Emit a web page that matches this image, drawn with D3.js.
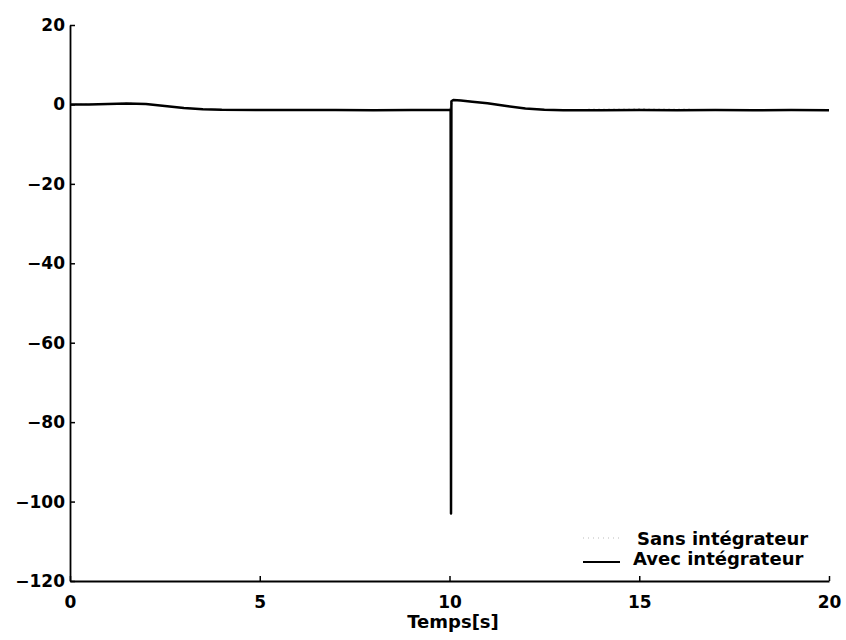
<!DOCTYPE html>
<html>
<head>
<meta charset="utf-8">
<script src="https://cdn.jsdelivr.net/npm/d3@7"></script>
<style>
  body { margin: 0; background: #fff; }
  svg { font-family: "DejaVu Sans", Arial, sans-serif; }
</style>
</head>
<body>
<svg id="chart"></svg>
<script>
// values
const timeAvec = [0, 0.5, 1, 1.5, 2, 2.5, 3, 3.5, 4, 5, 6, 7, 8, 9, 9.9, 10.03, 10.04, 10.05, 10.1, 10.3, 10.6, 11, 11.5, 12, 12.5, 13, 14, 15, 16, 17, 18, 19, 20]
const avec = [0, 0, 0.1, 0.25, 0.1, -0.4, -0.9, -1.2, -1.35, -1.4, -1.4, -1.4, -1.45, -1.4, -1.4, -1.4, -103, 0.8, 1.1, 1.0, 0.7, 0.3, -0.4, -1.0, -1.35, -1.45, -1.45, -1.4, -1.45, -1.4, -1.45, -1.4, -1.45]
const timeSans = [0, 0.5, 1, 1.5, 2, 2.5, 3, 3.5, 4, 6, 8, 10, 10.1, 10.3, 10.6, 11, 11.5, 12, 12.5, 13, 15, 17, 20]
const sans = [0, 0, 0.1, 0.3, 0.1, -0.4, -0.9, -1.2, -1.3, -1.3, -1.3, -1.3, 1.0, 1.0, 0.7, 0.3, -0.4, -1.0, -1.3, -1.3, -1.2, -1.3, -1.3]
const xTicks = [0, 5, 10, 15, 20]
const yTicks = [20, 0, -20, -40, -60, -80, -100, -120]
const legendLabels = ["Sans intégrateur", "Avec intégrateur"]

const w = 846
const h = 640

const svg = d3.select("#chart")
  .attr("width", w)
  .attr("height", h)

const xScale = d3.scaleLinear().domain([0, 20]).range([70, 829])
const yScale = d3.scaleLinear().domain([-120, 20]).range([581, 25])

const fmt = d => d < 0 ? "\u2212" + Math.abs(d) : String(d)

const xAxis = d3.axisBottom(xScale)
  .tickValues(xTicks)
  .tickFormat(fmt)
  .tickSizeInner(-5)
  .tickSizeOuter(0)
  .tickPadding(15)

const yAxis = d3.axisLeft(yScale)
  .tickValues(yTicks)
  .tickFormat(fmt)
  .tickSizeInner(-5)
  .tickSizeOuter(0)
  .tickPadding(5)

const gx = svg.append("g")
  .attr("transform", `translate(0, ${yScale(-120)})`)
  .call(xAxis)

const gy = svg.append("g")
  .attr("transform", `translate(${xScale(0)}, 0)`)
  .call(yAxis)

for (const g of [gx, gy]) {
  g.selectAll("path.domain").attr("stroke", "#000").attr("stroke-width", 1.8)
  g.selectAll(".tick line").attr("stroke", "#000").attr("stroke-width", 1.5)
  g.selectAll(".tick text")
    .attr("fill", "#000")
    .attr("font-family", "DejaVu Sans")
    .style("font-size", "17px")
    .style("font-weight", "bold")
}

const line = d3.line()
  .x(d => xScale(d[0]))
  .y(d => yScale(d[1]))

svg.append("path")
  .datum(timeSans.map((t, i) => [t, sans[i]]))
  .attr("d", line)
  .attr("fill", "none")
  .attr("stroke", "#999")
  .attr("stroke-width", 1.2)
  .attr("stroke-dasharray", "2,3")

svg.append("path")
  .datum(timeAvec.map((t, i) => [t, avec[i]]))
  .attr("d", line)
  .attr("fill", "none")
  .attr("stroke", "#000")
  .attr("stroke-width", 2.5)
  .attr("stroke-linejoin", "round")

// legend, bottom right
const legend = svg.append("g")
legend.selectAll("text")
  .data(legendLabels)
  .enter()
  .append("text")
  .attr("x", (d, i) => i === 0 ? 637 : 633)
  .attr("y", (d, i) => 545 + i * 20)
  .style("font-size", "18px")
  .style("font-weight", "bold")
  .text(d => d)

legend.append("line")
  .attr("x1", 583).attr("x2", 620)
  .attr("y1", 538).attr("y2", 538)
  .attr("stroke", "#bbb")
  .attr("stroke-width", 1)
  .attr("stroke-dasharray", "1,4")

legend.append("line")
  .attr("x1", 583).attr("x2", 620)
  .attr("y1", 562).attr("y2", 562)
  .attr("stroke", "#000")
  .attr("stroke-width", 2)

svg.append("text")
  .attr("x", 453)
  .attr("y", 628)
  .attr("text-anchor", "middle")
  .style("font-size", "18px")
  .style("font-weight", "bold")
  .text("Temps[s]")
</script>
</body>
</html>
